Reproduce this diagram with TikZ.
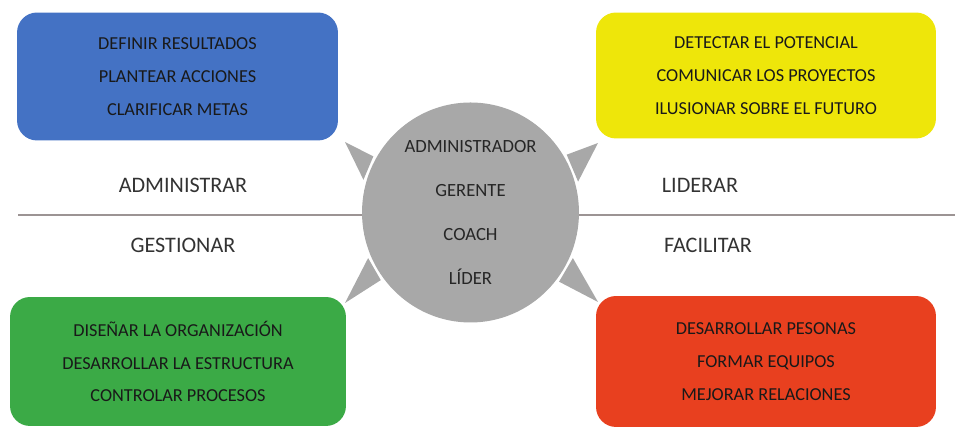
\documentclass[tikz,border=0pt]{standalone}
\usepackage{fontspec}
\setmainfont{Carlito}
\usepackage{xcolor}
\usetikzlibrary{positioning,shapes}

\definecolor{cajaazul}{HTML}{4472C4}
\definecolor{cajaamarilla}{HTML}{EEE60A}
\definecolor{cajaverde}{HTML}{3BAA46}
\definecolor{cajaroja}{HTML}{E8401F}
\definecolor{gris}{HTML}{A8A8A8}
\definecolor{linea}{HTML}{9C9494}

\begin{document}
\begin{tikzpicture}[x=0.02cm,y=0.02cm,
  caja/.style={rounded corners=0.4cm,align=center,text=black!90,
    font=\fontsize{10.4}{18.7}\selectfont},
  rol/.style={text=black!80,font=\fontsize{12.6}{14}\selectfont},
  pointer/.style={fill=gris}]
  \useasboundingbox (0,0) rectangle (961,428);

  % Linea divisoria
  \draw[linea,line width=0.9pt] (18,213) coordinate (izq) -- (955,213) coordinate (der);

  % Cajas
  \node[caja,fill=cajaazul,minimum width=6.42cm,minimum height=2.56cm] (admin) at (177.5,351.5)
    {DEFINIR RESULTADOS\\PLANTEAR ACCIONES\\CLARIFICAR METAS};
  \node[caja,fill=cajaamarilla,minimum width=6.8cm,minimum height=2.52cm] (lider) at (766,352.5)
    {DETECTAR EL POTENCIAL\\COMUNICAR LOS PROYECTOS\\ILUSIONAR SOBRE EL FUTURO};
  \node[caja,fill=cajaverde,minimum width=6.72cm,minimum height=2.58cm] (gestion) at (178,66.5)
    {DISEÑAR LA ORGANIZACIÓN\\DESARROLLAR LA ESTRUCTURA\\CONTROLAR PROCESOS};
  \node[caja,fill=cajaroja,minimum width=6.8cm,minimum height=2.62cm] (facil) at (766,66.5)
    {DESARROLLAR PESONAS\\FORMAR EQUIPOS\\MEJORAR RELACIONES};

  % Centro
  \node[ellipse,fill=gris,minimum width=4.34cm,minimum height=4.1cm,align=center,
    text=black!85,font=\fontsize{10.6}{25}\selectfont] (centro) at (470.5,215.5)
    {ADMINISTRADOR\\GERENTE\\COACH\\LÍDER};

  % Roles
  \node[rol] (administrar) at (183,243) {ADMINISTRAR};
  \node[rol] (liderar) at (700,243) {LIDERAR};
  \node[rol] (gestionar) at (183,183) {GESTIONAR};
  \node[rol] (facilitar) at (708,183) {FACILITAR};

  % Flechas
  \coordinate (ptl) at (345,286);
  \coordinate (ptr) at (598,285);
  \coordinate (pbl) at (345,125);
  \coordinate (pbr) at (598,126);
  \fill[pointer] ([shift={(150:3)}]centro.150) -- ([shift={(163:3)}]centro.163) -- (ptl) -- cycle;
  \fill[pointer] ([shift={(31:3)}]centro.31) -- ([shift={(16:3)}]centro.16) -- (ptr) -- cycle;
  \fill[pointer] ([shift={(204:3)}]centro.204) -- ([shift={(217:3)}]centro.217) -- (pbl) -- cycle;
  \fill[pointer] ([shift={(336:3)}]centro.336) -- ([shift={(322:3)}]centro.322) -- (pbr) -- cycle;
\end{tikzpicture}
\end{document}
